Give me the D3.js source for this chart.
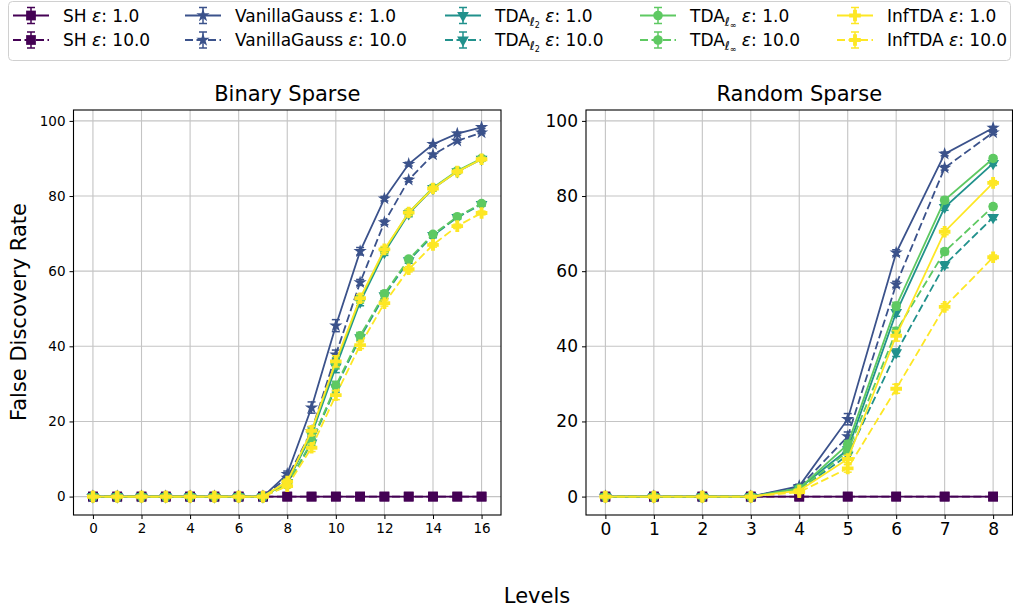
<!DOCTYPE html>
<html>
<head>
<meta charset="utf-8">
<script src="https://cdn.jsdelivr.net/npm/d3@7"></script>
<style>
  body { margin: 0; background: #fff; }
  svg { display: block; font-family: "DejaVu Sans", sans-serif; }
</style>
</head>
<body>
<div id="chart"></div>
<script>
// levels on the x axis
const levelsA = [0,1,2,3,4,5,6,7,8,9,10,11,12,13,14,15,16];
const levelsB = [0,1,2,3,4,5,6,7,8];
const yTicks = [0,20,40,60,80,100];
const xTicksA = [0,2,4,6,8,10,12,14,16];
const xTicksB = [0,1,2,3,4,5,6,7,8];

// Binary Sparse (left)
const shA1   = [0,0,0,0,0,0,0,0,0,0,0,0,0,0,0,0,0];
const shA10  = [0,0,0,0,0,0,0,0,0,0,0,0,0,0,0,0,0];
const vgA1   = [0,0,0,0,0,0,0,0,6,23.7,45.5,65.3,79.3,88.5,93.8,96.6,98.3];
const vgA10  = [0,0,0,0,0,0,0,0,5,17.4,37.8,57,73,84.3,91,94.7,96.9];
const l2A1   = [0,0,0,0,0,0,0,0,3.8,16.5,34.5,51.8,65,75.3,82,86.5,89.8];
const l2A10  = [0,0,0,0,0,0,0,0,3,14.3,29,42.3,53.5,62.8,69.5,74.3,77.8];
const linfA1 = [0,0,0,0,0,0,0,0,3.8,17,35.5,52.5,65.5,75.6,82.2,86.7,90];
const linfA10= [0,0,0,0,0,0,0,0,3.1,14.6,29.5,42.8,54,63.2,69.8,74.5,78];
const infA1  = [0,0,0,0,0,0,0,0,4,17.5,36,52.8,65.8,75.6,82,86.5,89.8];
const infA10 = [0,0,0,0,0,0,0,0,2.8,13,27,40.3,51.5,60.5,67,72,75.5];

// error bar half-lengths (left)
const vgA1e   = [0,0,0,0,0,0,0,0,0.8,1.5,1.6,1,0.6,0.5,0.4,0.4,0.3];
const vgA10e  = [0,0,0,0,0,0,0,0,0.6,1.2,1.2,0.8,0.6,0.5,0.4,0.4,0.3];
const l2A1e   = [0,0,0,0,0,0,0,0,0.6,1.2,1.5,1,0.8,0.8,0.6,0.5,0.5];
const l2A10e  = [0,0,0,0,0,0,0,0,0.5,1,1.2,0.9,0.8,0.7,0.6,0.5,0.5];
const linfA1e = [0,0,0,0,0,0,0,0,0.6,1.2,1.5,1,0.8,0.8,0.6,0.5,0.5];
const linfA10e= [0,0,0,0,0,0,0,0,0.5,1,1.2,0.9,0.8,0.7,0.6,0.5,0.5];
const infA1e  = [0,0,0,0,0,0,0,0,0.6,1.2,1.5,1,0.8,0.8,0.6,0.5,0.5];
const infA10e = [0,0,0,0,0,0,0,0,0.5,1,1.2,0.9,0.8,0.7,0.6,0.5,0.5];

// Random Sparse (right)
const shB1   = [0,0,0,0,0,0,0,0,0];
const shB10  = [0,0,0,0,0,0,0,0,0];
const vgB1   = [0,0,0,0,2.8,20.6,64.9,91.2,98.1];
const vgB10  = [0,0,0,0,2.5,16,56.5,87.5,96.9];
const l2B1   = [0,0,0,0,2.2,12.5,49,77,88.7];
const l2B10  = [0,0,0,0,1.8,11,38.3,61.7,74.3];
const linfB1 = [0,0,0,0,2.2,13.9,50.7,78.9,90];
const linfB10= [0,0,0,0,1.8,12,44,65.2,77.2];
const infB1  = [0,0,0,0,1.6,10,42.8,70.5,83.5];
const infB10 = [0,0,0,0,1.2,7.5,28.7,50.5,63.7];

const vgB1e   = [0,0,0,0,0.5,1.5,0.8,0.5,0.4];
const vgB10e  = [0,0,0,0,0.5,1.2,0.8,0.6,0.5];
const l2B1e   = [0,0,0,0,0.4,1,1,0.8,0.6];
const l2B10e  = [0,0,0,0,0.4,1,1,0.8,0.6];
const linfB1e = [0,0,0,0,0.4,1,1,0.8,0.6];
const linfB10e= [0,0,0,0,0.4,1,1,0.8,0.6];
const infB1e  = [0,0,0,0,0.4,1,1.4,0.8,0.6];
const infB10e = [0,0,0,0,0.4,1,1.2,0.8,0.6];

const methods = [
  {name: "SH", color: "#440154", marker: "square"},
  {name: "VanillaGauss", color: "#3b528b", marker: "star"},
  {name: "TDA", sub: "2", color: "#21918c", marker: "tri"},
  {name: "TDA", sub: "\u221e", color: "#5ec962", marker: "circle"},
  {name: "InfTDA", color: "#fde725", marker: "plus"}
];
const epsList = ["1.0", "10.0"];

const seriesA = [
  [shA1, null], [shA10, null], [vgA1, vgA1e], [vgA10, vgA10e],
  [l2A1, l2A1e], [l2A10, l2A10e], [linfA1, linfA1e], [linfA10, linfA10e],
  [infA1, infA1e], [infA10, infA10e]
];
const seriesB = [
  [shB1, null], [shB10, null], [vgB1, vgB1e], [vgB10, vgB10e],
  [l2B1, l2B1e], [l2B10, l2B10e], [linfB1, linfB1e], [linfB10, linfB10e],
  [infB1, infB1e], [infB10, infB10e]
];

const W = 1013, H = 609;
const svg = d3.select("#chart").append("svg").attr("width", W).attr("height", H);

function markerPath(kind) {
  switch (kind) {
    case "square": return d3.symbol(d3.symbolSquare, 95)();
    case "star": return d3.symbol(d3.symbolStar, 55)();
    case "tri": return d3.symbol(d3.symbolTriangle, 60)();
    case "circle": return d3.symbol(d3.symbolCircle, 72)();
    case "plus": return d3.symbol(d3.symbolCross, 75)();
  }
}

function drawMarker(g, kind, color, x, y) {
  g.append("path")
    .attr("d", markerPath(kind))
    .attr("transform", `translate(${x},${y})` + (kind === "tri" ? " rotate(180)" : ""))
    .attr("fill", color);
}

function drawPanel(left, right, top, bottom, levels, series, xTicks, tickSize, title) {
  const x = d3.scaleLinear()
    .domain([levels[0] - (levels[levels.length - 1] - levels[0]) * 0.05,
             levels[levels.length - 1] + (levels[levels.length - 1] - levels[0]) * 0.05])
    .range([left, right]);
  const y = d3.scaleLinear().domain([-4.9, 102.9]).range([bottom, top]);

  const g = svg.append("g");

  // grid
  g.selectAll(".gx").data(xTicks).enter().append("line")
    .attr("x1", d => x(d)).attr("x2", d => x(d))
    .attr("y1", top).attr("y2", bottom)
    .attr("stroke", "#c4c4c4").attr("stroke-width", 1.1);
  g.selectAll(".gy").data(yTicks).enter().append("line")
    .attr("x1", left).attr("x2", right)
    .attr("y1", d => y(d)).attr("y2", d => y(d))
    .attr("stroke", "#c4c4c4").attr("stroke-width", 1.1);

  // series
  series.forEach((s, i) => {
    const m = methods[Math.floor(i / 2)];
    const dashed = i % 2 === 1;
    const vals = s[0], errs = s[1];
    const pts = levels.map((l, k) => [l, vals[k], errs ? errs[k] : 0]);
    const sg = g.append("g");
    sg.append("path")
      .datum(pts)
      .attr("d", d3.line().x(d => x(d[0])).y(d => y(d[1])))
      .attr("fill", "none")
      .attr("stroke", m.color)
      .attr("stroke-width", 1.8)
      .attr("stroke-dasharray", dashed ? "8,3.5" : null);
    pts.forEach(p => {
      if (p[2] > 0) {
        const px = x(p[0]);
        sg.append("line").attr("x1", px).attr("x2", px)
          .attr("y1", y(p[1] - p[2])).attr("y2", y(p[1] + p[2]))
          .attr("stroke", m.color).attr("stroke-width", 1.5);
        [p[1] - p[2], p[1] + p[2]].forEach(v => {
          sg.append("line").attr("x1", px - 4).attr("x2", px + 4)
            .attr("y1", y(v)).attr("y2", y(v))
            .attr("stroke", m.color).attr("stroke-width", 1.5);
        });
      }
      drawMarker(sg, m.marker, m.color, x(p[0]), y(p[1]));
    });
  });

  // frame
  g.append("rect")
    .attr("x", left).attr("y", top)
    .attr("width", right - left).attr("height", bottom - top)
    .attr("fill", "none").attr("stroke", "#000").attr("stroke-width", 1.1);

  // axes
  const ax = g.append("g").attr("transform", `translate(0,${bottom})`)
    .call(d3.axisBottom(x).tickValues(xTicks).tickSize(4).tickPadding(4).tickFormat(d3.format("d")));
  const ay = g.append("g").attr("transform", `translate(${left},0)`)
    .call(d3.axisLeft(y).tickValues(yTicks).tickSize(4).tickPadding(4).tickFormat(d3.format("d")));
  [ax, ay].forEach(a => {
    a.select(".domain").remove();
    a.selectAll("text").attr("font-size", tickSize).attr("fill", "#000")
      .attr("font-family", "DejaVu Sans, sans-serif");
    a.selectAll("line").attr("stroke", "#000").attr("stroke-width", 1);
  });

  svg.append("text")
    .attr("x", (left + right) / 2).attr("y", top - 9)
    .attr("text-anchor", "middle")
    .attr("font-size", 21)
    .text(title);
}

drawPanel(73.5, 501, 110, 515, levelsA, seriesA, xTicksA, 13.5, "Binary Sparse");
drawPanel(586, 1012.5, 110, 515, levelsB, seriesB, xTicksB, 17, "Random Sparse");

// axis labels
svg.append("text")
  .attr("x", 537).attr("y", 603)
  .attr("text-anchor", "middle").attr("font-size", 21)
  .text("Levels");
svg.append("text")
  .attr("transform", "translate(26,312) rotate(-90)")
  .attr("text-anchor", "middle").attr("font-size", 21)
  .text("False Discovery Rate");

// legend
const legend = svg.append("g");
legend.append("rect")
  .attr("x", 8.5).attr("y", 1.5).attr("width", 1002).attr("height", 59)
  .attr("rx", 4).attr("fill", "#fff").attr("stroke", "#d0d0d0").attr("stroke-width", 1);

const colX = [13, 185, 445, 640, 837];
const rowY = [15.5, 40];
methods.forEach((m, c) => {
  epsList.forEach((eps, r) => {
    const hx = colX[c], hy = rowY[r];
    const lg = legend.append("g");
    lg.append("line")
      .attr("x1", hx).attr("x2", hx + 36).attr("y1", hy).attr("y2", hy)
      .attr("stroke", m.color).attr("stroke-width", 1.8)
      .attr("stroke-dasharray", r === 1 ? "8,3.5" : null);
    const mx = hx + 18;
    lg.append("line").attr("x1", mx).attr("x2", mx).attr("y1", hy - 8).attr("y2", hy + 8)
      .attr("stroke", m.color).attr("stroke-width", 1.5);
    [hy - 8, hy + 8].forEach(v => {
      lg.append("line").attr("x1", mx - 4).attr("x2", mx + 4).attr("y1", v).attr("y2", v)
        .attr("stroke", m.color).attr("stroke-width", 1.5);
    });
    drawMarker(lg, m.marker, m.color, mx, hy);

    const t = lg.append("text").attr("x", hx + 50).attr("y", hy + 6).attr("font-size", 17);
    t.append("tspan").text(m.name);
    if (m.sub) {
      t.append("tspan").attr("font-size", 12).attr("dy", 4).attr("font-style", "italic").text("\u2113");
      t.append("tspan").attr("font-size", 8).attr("dy", 2).text(m.sub);
      t.append("tspan").attr("dy", -6).text(" ");
    } else {
      t.append("tspan").text(" ");
    }
    t.append("tspan").attr("font-style", "italic").text("\u03b5");
    t.append("tspan").text(": " + eps);
  });
});
</script>
</body>
</html>
